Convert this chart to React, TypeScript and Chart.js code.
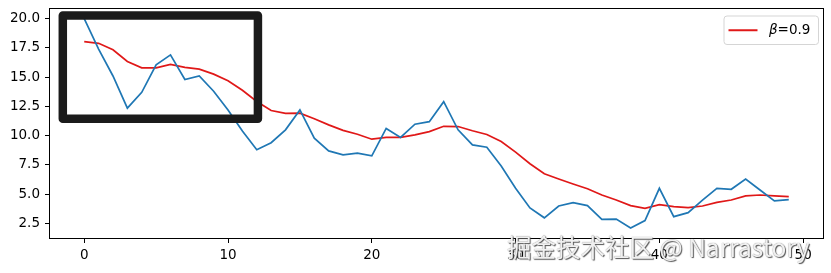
import React, { useEffect, useRef } from "react";
import { Chart, registerables } from "chart.js";

Chart.register(...registerables);

// ---- data ----
const steps: number[] = Array.from({ length: 50 }, (_, i) => i);

const rawValues: number[] = [
  20.0, 17.4, 15.1, 12.35, 13.7, 16.05, 16.9, 14.8, 15.1, 13.8,
  12.2, 10.4, 8.8, 9.4, 10.5, 12.2, 9.78, 8.7, 8.36, 8.5,
  8.27, 10.62, 9.85, 10.98, 11.2, 12.9, 10.5, 9.21, 9.01, 7.4,
  5.5, 3.82, 2.98, 3.99, 4.28, 4.02, 2.85, 2.87, 2.11, 2.75,
  5.5, 3.08, 3.42, 4.5, 5.5, 5.42, 6.3, 5.36, 4.42, 4.53,
];

const emaValues: number[] = [
  18.03, 17.89, 17.34, 16.34, 15.8, 15.8, 16.09, 15.83, 15.69, 15.26,
  14.7, 13.88, 12.92, 12.15, 11.9, 11.93, 11.45, 10.92, 10.45, 10.12,
  9.7, 9.86, 9.85, 10.07, 10.35, 10.8, 10.78, 10.42, 10.1, 9.5,
  8.6, 7.6, 6.75, 6.3, 5.87, 5.47, 4.93, 4.5, 4.02, 3.79,
  4.11, 3.93, 3.85, 3.99, 4.3, 4.5, 4.85, 4.93, 4.85, 4.79,
];

const xTicks: number[] = [0, 10, 20, 30, 40, 50];
const yTicks: number[] = [2.5, 5.0, 7.5, 10.0, 12.5, 15.0, 17.5, 20.0];

const legendLabel = "=0.9";
const legendSymbol = "β";
const watermark = "掘金技术社区 @ Narrastory";

// highlight box, in data units
const boxXRange: number[] = [-1.49, 12.08];
const boxYRange: number[] = [11.44, 20.26];

const X_MIN = -2.45;
const X_MAX = 51.45;
const Y_MIN = 1.17;
const Y_MAX = 20.91;

const BLUE = "#1f77b4";
const RED = "#e01818";
const FONT = "'DejaVu Sans', sans-serif";

const decorPlugin = {
  id: "decor",
  afterDatasetsDraw(chart: any) {
    const { ctx, chartArea, scales } = chart;
    const xs = scales.x;
    const ys = scales.y;
    ctx.save();
    // frame
    ctx.strokeStyle = "#000";
    ctx.lineWidth = 1;
    ctx.strokeRect(
      Math.round(chartArea.left) + 0.5,
      Math.round(chartArea.top) + 0.5,
      Math.round(chartArea.right - chartArea.left) - 1,
      Math.round(chartArea.bottom - chartArea.top) - 1
    );
    // highlight box
    const bx0 = xs.getPixelForValue(boxXRange[0]);
    const bx1 = xs.getPixelForValue(boxXRange[1]);
    const by0 = ys.getPixelForValue(boxYRange[1]);
    const by1 = ys.getPixelForValue(boxYRange[0]);
    ctx.strokeStyle = "#1b1b1b";
    ctx.lineWidth = 8.5;
    ctx.lineJoin = "round";
    ctx.strokeRect(bx0, by0, bx1 - bx0, by1 - by0);

    // legend
    const lx0 = chartArea.right - 100;
    const ly0 = chartArea.top + 8;
    const lw = 94.5;
    const lh = 28.5;
    ctx.lineJoin = "miter";
    ctx.beginPath();
    const r = 3;
    ctx.moveTo(lx0 + r, ly0);
    ctx.arcTo(lx0 + lw, ly0, lx0 + lw, ly0 + lh, r);
    ctx.arcTo(lx0 + lw, ly0 + lh, lx0, ly0 + lh, r);
    ctx.arcTo(lx0, ly0 + lh, lx0, ly0, r);
    ctx.arcTo(lx0, ly0, lx0 + lw, ly0, r);
    ctx.closePath();
    ctx.fillStyle = "rgba(255,255,255,0.8)";
    ctx.fill();
    ctx.strokeStyle = "#d5d5d5";
    ctx.lineWidth = 1;
    ctx.stroke();
    const cy = ly0 + lh / 2;
    ctx.strokeStyle = RED;
    ctx.lineWidth = 2;
    ctx.beginPath();
    ctx.moveTo(lx0 + 4.5, cy);
    ctx.lineTo(lx0 + 33.5, cy);
    ctx.stroke();
    ctx.fillStyle = "#000";
    ctx.textBaseline = "middle";
    ctx.textAlign = "left";
    ctx.font = `italic 13.5px ${FONT}`;
    const tx = lx0 + 45;
    ctx.fillText(legendSymbol, tx, cy);
    const w = ctx.measureText(legendSymbol).width;
    ctx.font = `13.5px ${FONT}`;
    ctx.fillText(legendLabel, tx + w, cy);
    ctx.restore();
  },
};

export default function App() {
  const ref = useRef<HTMLCanvasElement | null>(null);

  useEffect(() => {
    if (!ref.current) return;
    const chart = new Chart(ref.current, {
      type: "line",
      data: {
        datasets: [
          {
            data: steps.map((s, i) => ({ x: s, y: rawValues[i] })),
            borderColor: BLUE,
            borderWidth: 1.7,
            pointRadius: 0,
            tension: 0,
          },
          {
            data: steps.map((s, i) => ({ x: s, y: emaValues[i] })),
            borderColor: RED,
            borderWidth: 1.7,
            pointRadius: 0,
            tension: 0,
          },
        ],
      },
      options: {
        animation: false,
        responsive: false,
        layout: { padding: { left: 0, right: 7, top: 8, bottom: 0 } },
        plugins: { legend: { display: false }, tooltip: { enabled: false } },
        scales: {
          x: {
            type: "linear",
            min: X_MIN,
            max: X_MAX,
            afterBuildTicks: (s: any) => {
              s.ticks = xTicks.map((v) => ({ value: v }));
            },
            afterFit: (s: any) => {
              s.height = 34;
              s.paddingLeft = 0;
              s.paddingRight = 0;
            },
            border: { display: false },
            grid: {
              drawOnChartArea: false,
              drawTicks: true,
              tickLength: 4,
              color: "#000",
              tickColor: "#000",
            },
            ticks: {
              color: "#000",
              font: { family: FONT, size: 13.5 },
              padding: 4,
              maxRotation: 0,
              autoSkip: false,
            },
          },
          y: {
            type: "linear",
            min: Y_MIN,
            max: Y_MAX,
            afterBuildTicks: (s: any) => {
              s.ticks = yTicks.map((v) => ({ value: v }));
            },
            afterFit: (s: any) => {
              s.width = 49;
              s.paddingTop = 0;
              s.paddingBottom = 0;
            },
            border: { display: false },
            grid: {
              drawOnChartArea: false,
              drawTicks: true,
              tickLength: 4,
              color: "#000",
              tickColor: "#000",
            },
            ticks: {
              color: "#000",
              font: { family: FONT, size: 13.5 },
              padding: 5,
              autoSkip: false,
              callback: (v: any) => Number(v).toFixed(1),
            },
          },
        },
      },
      plugins: [decorPlugin],
    });
    return () => chart.destroy();
  }, []);

  return (
    <div
      style={{
        position: "absolute",
        left: 0,
        top: 0,
        width: 831,
        height: 273,
        background: "#fff",
        overflow: "hidden",
      }}
    >
      <canvas ref={ref} width={831} height={273} style={{ display: "block" }} />
      <div
        style={{
          position: "absolute",
          left: 507,
          top: 233,
          fontFamily: "'Noto Sans CJK SC', 'Noto Sans', sans-serif",
          fontSize: 24.5,
          lineHeight: "28px",
          whiteSpace: "nowrap",
          color: "#f0f0f0",
          textShadow: "1px 1px 1px #555, 0 0 1px #777",
          pointerEvents: "none",
        }}
      >
        {watermark}
      </div>
    </div>
  );
}
